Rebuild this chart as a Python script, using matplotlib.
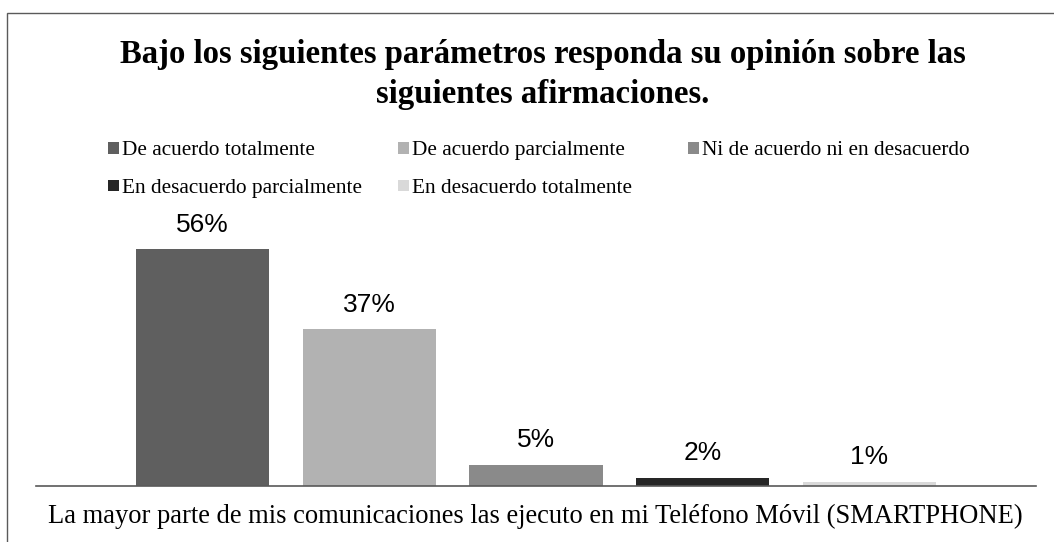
import matplotlib
matplotlib.use("Agg")
import matplotlib.pyplot as plt
from matplotlib.patches import Rectangle

# Survey responses (percent of respondents)
series = [
    "De acuerdo totalmente",
    "De acuerdo parcialmente",
    "Ni de acuerdo ni en desacuerdo",
    "En desacuerdo parcialmente",
    "En desacuerdo totalmente",
]
values = [56, 37, 5, 2, 1]
colors = ["#5f5f5f", "#b2b2b2", "#8a8a8a", "#262626", "#d9d9d9"]
category = "La mayor parte de mis comunicaciones las ejecuto en mi Teléfono Móvil (SMARTPHONE)"
title_lines = [
    "Bajo los siguientes parámetros responda su opinión sobre las",
    "siguientes afirmaciones.",
]

W, H = 1054, 542
fig = plt.figure(figsize=(W / 100, H / 100), dpi=100)
fig.patch.set_facecolor("white")


def fx(px):
    return px / W


def fy(py):
    return 1 - py / H


serif = "Liberation Serif"
sans = "Liberation Sans"

# Chart frame
fig.add_artist(Rectangle((fx(6.5), fy(600)), fx(1100), fy(13) - fy(600),
                         transform=fig.transFigure, fill=False,
                         edgecolor="#5a5a5a", linewidth=1.0, clip_on=False))

# Plot area
ax = fig.add_axes([fx(36), fy(486), fx(1036) - fx(36), fy(232) - fy(486)])
x = list(range(len(values)))
bars = ax.bar(x, values, width=0.8, color=colors, edgecolor="none")
ax.set_xlim(-1, len(values))
ax.set_ylim(0, 60)
for side in ("left", "right", "top"):
    ax.spines[side].set_visible(False)
ax.spines["bottom"].set_color("#595959")
ax.spines["bottom"].set_linewidth(1.2)
ax.set_yticks([])
ax.set_xticks([])
ax.patch.set_alpha(0)

for xi, v in zip(x, values):
    ax.annotate(f"{v}%", (xi, v), xytext=(0, 12.5), textcoords="offset points",
                ha="center", va="baseline", fontsize=19, family=sans,
                color="#000000")

# Category label under the axis
fig.text(fx(535), fy(523), category, ha="center", va="baseline",
         fontsize=19.1, family=serif, color="#000000")

# Title
for i, line in enumerate(title_lines):
    fig.text(fx(543), fy(63 + 40 * i), line, ha="center", va="baseline",
             fontsize=23.6, fontweight="bold", family=serif, color="#000000")

# Legend entries
col_x = [108, 398, 688]
row_y = [148, 186]
for i, (name, c) in enumerate(zip(series, colors)):
    r, k = divmod(i, 3)
    mx, my = col_x[k], row_y[r]
    fig.add_artist(Rectangle((fx(mx), fy(my + 5.5)), fx(11), fy(my - 5.5) - fy(my + 5.5),
                             transform=fig.transFigure, facecolor=c,
                             edgecolor="none"))
    fig.text(fx(mx + 14), fy(my), name, ha="left", va="center_baseline",
             fontsize=15.3, family=serif, color="#000000")

fig.savefig("out.png", dpi=100, facecolor="white")
